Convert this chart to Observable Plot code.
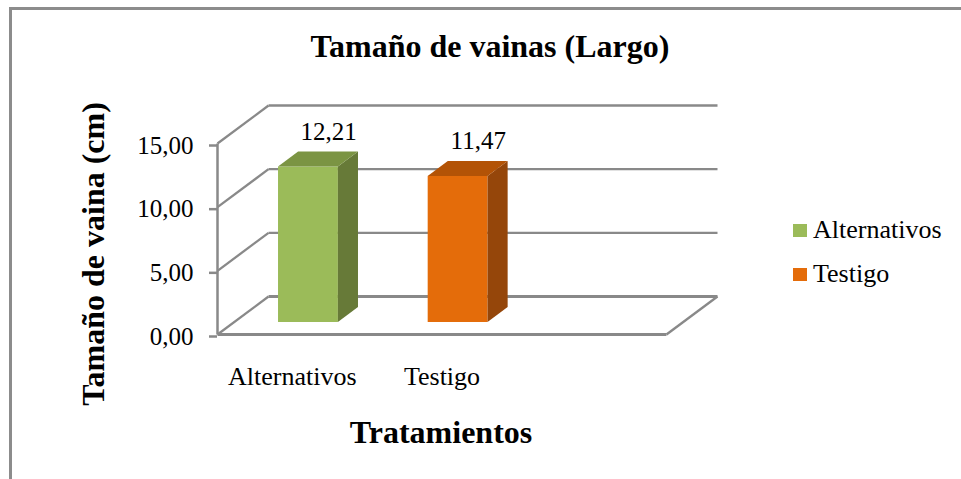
<!DOCTYPE html>
<html><head><meta charset="utf-8">
<script src="https://cdn.jsdelivr.net/npm/d3@7"></script>
<script src="https://cdn.jsdelivr.net/npm/@observablehq/plot@0.6"></script>
<style>
html,body{margin:0;padding:0;background:#fff;}
#wrap{position:relative;width:961px;height:479px;overflow:hidden;font-family:"Liberation Serif","Times New Roman",serif;background:#fff;}
#frame{position:absolute;left:9px;top:7px;width:1000px;height:520px;border-left:3px solid #8c8c8c;border-top:3px solid #8c8c8c;}
#chart{position:absolute;left:0;top:0;}
.t{position:absolute;white-space:nowrap;line-height:1;color:#000;}
.sw{position:absolute;width:14px;height:13px;}
</style></head><body>
<div id="wrap">
  <div id="frame"></div>
  <div id="chart"></div>
  <div class="t" id="title" style="left:490px;top:30px;font-size:32px;font-weight:bold;transform:translateX(-50%);"></div>
  <div class="t" id="ytitle" style="left:93px;top:254px;font-size:32px;font-weight:bold;transform:translate(-50%,-50%) rotate(-90deg);"></div>
  <div class="t" id="xtitle" style="left:441px;top:416px;font-size:32px;font-weight:bold;transform:translateX(-50%);"></div>
  <div id="legend"></div>
</div>
<script>
// ---- data ----
const titleText = "Tamaño de vainas (Largo)";
const yTitle = "Tamaño de vaina (cm)";
const xTitle = "Tratamientos";
const categories = ["Alternativos", "Testigo"];
const values = [12.21, 11.47];
const yTicks = [0, 5, 10, 15];
const frontColors = ["#9bbb59", "#e46c0a"];
const topColors = ["#7b9443", "#b35306"];
const sideColors = ["#677a38", "#95460a"];

// ---- 3D projection parameters (oblique) ----
const NCAT = 3;          // category slots on the floor (third one empty)
const DX = 0.341;        // depth shift in x units
const DY = 2.985;        // depth shift in y units
const D1 = 0.316, D2 = 0.71; // bar front / back depth
const W0 = 0.3, W1 = 0.7;    // bar extent within a category slot
const fmt = v => v.toFixed(2).replace(".", ",");
const grid = "#898989";

const bars = categories.map((c, i) => ({i, c, v: values[i]}));
const sidePts = bars.flatMap(b => [D1, D2].map(d => ({k: b.i, x: b.i + W1 + d * DX, y1: d * DY, y2: b.v + d * DY})));
const topPts = bars.flatMap(b => [D1, D2].map(d => ({k: b.i, y: b.v + d * DY, x1: b.i + W0 + d * DX, x2: b.i + W1 + d * DX})));

const chart = Plot.plot({
  width: 961, height: 479,
  marginLeft: 217, marginRight: 244, marginTop: 105, marginBottom: 145,
  x: {domain: [0, NCAT + DX]},
  y: {domain: [0, yTicks[yTicks.length - 1] + DY]},
  color: {type: "identity"},
  style: {fontFamily: "'Liberation Serif','Times New Roman',serif", background: "transparent", color: "#000", overflow: "visible"},
  marks: [
    // side wall diagonals
    Plot.link(yTicks, {x1: () => 0, y1: v => v, x2: () => DX, y2: v => v + DY, stroke: grid, strokeWidth: 2.3}),
    // back wall gridlines
    Plot.link(yTicks, {x1: () => DX, x2: () => NCAT + DX, y1: v => v + DY, y2: v => v + DY, stroke: grid, strokeWidth: v => v === 0 ? 3 : 2.3}),
    // floor front and right edges
    Plot.link([0], {x1: () => 0, y1: () => 0, x2: () => NCAT, y2: () => 0, stroke: grid, strokeWidth: 3}),
    Plot.link([0], {x1: () => NCAT, y1: () => 0, x2: () => NCAT + DX, y2: () => DY, stroke: grid, strokeWidth: 2.3}),
    // vertical value axis line
    Plot.link([0], {x1: () => 0, y1: () => 0, x2: () => 0, y2: () => yTicks[yTicks.length - 1], stroke: grid, strokeWidth: 2.5}),
    Plot.axisY({ticks: yTicks, tickFormat: fmt, tickSize: 8, tickPadding: 16, fontSize: 25, stroke: grid, strokeWidth: 2.5, fill: "#000", label: null, dy: 2}),
    Plot.axisX({ticks: categories.map((c, i) => i + 0.5), tickFormat: t => categories[Math.floor(t)], tickSize: 0, tickPadding: 32, fontSize: 26, fill: "#000", label: null}),
    // bars: front faces
    Plot.rect(bars, {x1: b => b.i + W0 + D1 * DX, x2: b => b.i + W1 + D1 * DX, y1: () => D1 * DY, y2: b => b.v + D1 * DY, fill: b => frontColors[b.i]}),
    // side faces
    Plot.areaY(sidePts, {x: "x", y1: "y1", y2: "y2", z: "k", fill: p => sideColors[p.k]}),
    // top faces
    Plot.areaX(topPts, {y: "y", x1: "x1", x2: "x2", z: "k", fill: p => topColors[p.k]}),
    // value labels
    Plot.text(bars, {x: b => b.i + 0.5 + D2 * DX, y: b => b.v + D2 * DY, text: b => fmt(b.v), dy: -20, fontSize: 25, fill: "#000"})
  ]
});
document.getElementById("chart").append(chart);
document.getElementById("title").textContent = titleText;
document.getElementById("ytitle").textContent = yTitle;
document.getElementById("xtitle").textContent = xTitle;

// legend
const lg = document.getElementById("legend");
const legendTop = [218, 262];
categories.forEach((c, i) => {
  const sw = document.createElement("div");
  sw.className = "sw";
  sw.style.left = "793px";
  sw.style.top = (legendTop[i] + 6) + "px";
  sw.style.background = frontColors[i];
  lg.appendChild(sw);
  const t = document.createElement("div");
  t.className = "t";
  t.style.left = "813px";
  t.style.top = (legendTop[i] - 1) + "px";
  t.style.fontSize = "26px";
  t.textContent = c;
  lg.appendChild(t);
});
</script>
</body></html>
